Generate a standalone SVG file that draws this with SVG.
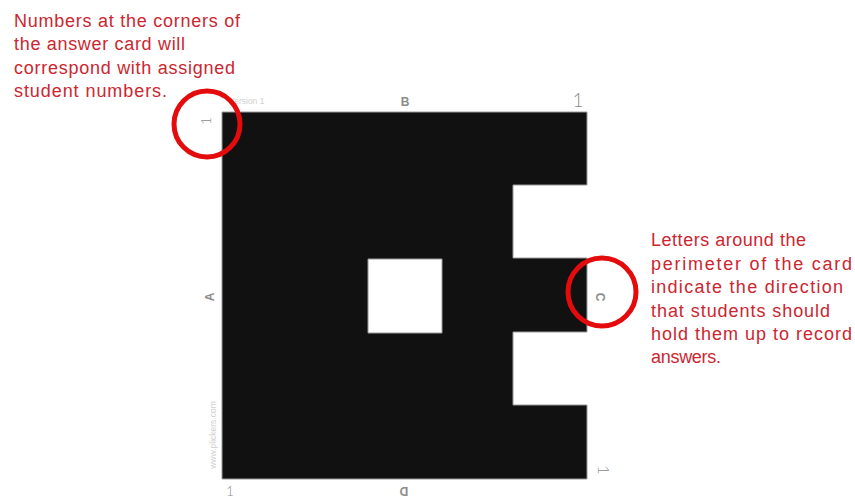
<svg xmlns="http://www.w3.org/2000/svg" width="855" height="499" viewBox="0 0 855 499">
<style>
.note{font-family:"Liberation Sans",Arial,sans-serif;font-size:18px;fill:#cc2630}
.lbl{font-family:"Liberation Sans",Arial,sans-serif;fill:#8c8c8c}
.one{font-family:Lato,"Liberation Sans",sans-serif;font-weight:300;fill:#8c8c8c}
.faint{font-family:"Liberation Sans",Arial,sans-serif;fill:#cfcfcf;font-size:8.5px}
.ring{fill:none;stroke:#e30b0b;stroke-width:5}
</style>
<rect width="855" height="499" fill="#ffffff"/>
<g id="card">
<path d="M222,112 H587 V185 H513 V258 H587 V332 H513 V405 H587 V479 H222 Z M368,259 H442 V333 H368 Z" fill="#111111" fill-rule="evenodd" stroke="#9a9a9a" stroke-width="1"/>
</g>
<g id="card-labels">
<text class="faint" x="229" y="104">Version 1</text>
<text class="lbl" x="405" y="106" font-size="12" text-anchor="middle" font-weight="bold">B</text>
<text class="one" x="578" y="107" font-size="19" text-anchor="middle">1</text>
<text class="one" transform="translate(211,121) rotate(-90)" font-size="13" text-anchor="middle">1</text>
<text class="lbl" transform="translate(214,297) rotate(-90)" font-size="12" text-anchor="middle" font-weight="bold">A</text>
<text class="faint" transform="translate(216,435) rotate(-90)" text-anchor="middle">www.plickers.com</text>
<text class="one" x="230" y="496" font-size="13" text-anchor="middle">1</text>
<text class="lbl" transform="translate(404,487) rotate(180)" font-size="12" text-anchor="middle" font-weight="bold">D</text>
<text class="lbl" transform="translate(596,297) rotate(90)" font-size="12" text-anchor="middle" font-weight="bold">C</text>
<text class="one" transform="translate(598,470) rotate(90)" font-size="16" text-anchor="middle">1</text>
</g>
<g id="note-numbers">
<text class="note" x="14" y="27" textLength="226" lengthAdjust="spacing">Numbers at the corners of</text>
<text class="note" x="14" y="50" textLength="171" lengthAdjust="spacing">the answer card will</text>
<text class="note" x="14" y="74" textLength="221" lengthAdjust="spacing">correspond with assigned</text>
<text class="note" x="14" y="97" textLength="153" lengthAdjust="spacing">student numbers.</text>
<circle class="ring" cx="207" cy="124" r="33"/>
</g>
<g id="note-letters">
<text class="note" x="651" y="246" textLength="155" lengthAdjust="spacing">Letters around the</text>
<text class="note" x="651" y="270" textLength="201" lengthAdjust="spacing">perimeter of the card</text>
<text class="note" x="651" y="293" textLength="192" lengthAdjust="spacing">indicate the direction</text>
<text class="note" x="651" y="317" textLength="179" lengthAdjust="spacing">that students should</text>
<text class="note" x="651" y="340" textLength="201" lengthAdjust="spacing">hold them up to record</text>
<text class="note" x="651" y="363" textLength="70" lengthAdjust="spacing">answers.</text>
<circle class="ring" cx="602" cy="292" r="34"/>
</g>
</svg>
